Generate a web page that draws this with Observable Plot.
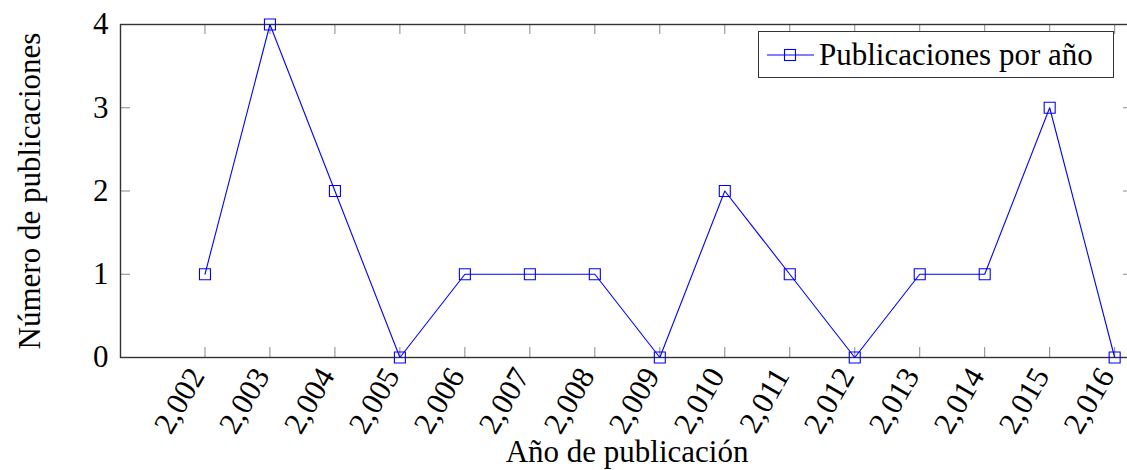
<!DOCTYPE html>
<html>
<head>
<meta charset="utf-8">
<script src="https://cdn.jsdelivr.net/npm/d3@7"></script>
<script src="https://cdn.jsdelivr.net/npm/@observablehq/plot@0.6"></script>
<style>
  html, body { margin: 0; padding: 0; background: white; overflow: hidden; width: 1127px; height: 470px; }
  #wrap { position: relative; width: 1127px; height: 470px; overflow: hidden; }
  #wrap > svg { max-width: none !important; display: block; }
  #legend {
    position: absolute; left: 758px; top: 31px; width: 354px; height: 45px;
    border: 1.4px solid #333; background: white; box-sizing: content-box;
    font-family: "Liberation Serif", "Times New Roman", serif; font-size: 31px;
    display: flex; align-items: center;
  }
  #legend svg { margin-left: 8px; margin-right: 5px; }
</style>
</head>
<body>
<div id="wrap"></div>
<script>
const years = [2002, 2003, 2004, 2005, 2006, 2007, 2008, 2009, 2010, 2011, 2012, 2013, 2014, 2015, 2016];
const counts = [1, 4, 2, 0, 1, 1, 1, 0, 2, 1, 0, 1, 1, 3, 0];
const yTicks = [0, 1, 2, 3, 4];
const seriesName = "Publicaciones por año";
const xLabel = "Año de publicación";
const yLabel = "Número de publicaciones";

const data = years.map((y, i) => ({year: y, count: counts[i]}));
const fmt = d3.format(",");
const W = 1140, H = 470, ML = 120, MR = 7, MT = 24, MB = 113;
const FW = W - ML - MR, FH = H - MT - MB;
const font = "Liberation Serif";

const chart = Plot.plot({
  width: W, height: H,
  marginLeft: ML, marginRight: MR, marginTop: MT, marginBottom: MB,
  x: {domain: [2000.7, 2016.29], axis: null},
  y: {domain: [0, 4], axis: null},
  style: {fontFamily: font, background: "white", overflow: "visible", maxWidth: "none"},
  marks: [
    Plot.tickX(years, {x: d => d, insetTop: FH - 10, stroke: "#888", strokeWidth: 1}),
    Plot.tickX(years, {x: d => d, insetBottom: FH - 10, stroke: "#888", strokeWidth: 1}),
    Plot.tickY(yTicks, {y: d => d, insetRight: FW - 10, stroke: "#888", strokeWidth: 1}),
    Plot.tickY(yTicks, {y: d => d, insetLeft: FW - 10, stroke: "#888", strokeWidth: 1}),
    Plot.frame({stroke: "#333", strokeWidth: 1.4}),
    Plot.line(data, {x: "year", y: "count", stroke: "#0000ff", strokeWidth: 1.1}),
    Plot.dot(data, {x: "year", y: "count", symbol: "square", r: 6.2, stroke: "#0000ff", fill: "none", strokeWidth: 1.1}),
    Plot.text(years, {x: d => d, frameAnchor: "bottom", text: d => fmt(d), rotate: -60, textAnchor: "end", lineAnchor: "middle", dx: -8, dy: 13, fontSize: 31, fill: "black"}),
    Plot.text(yTicks, {y: d => d, frameAnchor: "left", text: d => String(d), textAnchor: "end", dx: -12, fontSize: 31, fill: "black"}),
    Plot.text([xLabel], {frameAnchor: "bottom", text: d => d, dy: 95, lineAnchor: "middle", textAnchor: "middle", fontSize: 31, fill: "black"}),
    Plot.text([yLabel], {frameAnchor: "left", text: d => d, dx: -90, rotate: -90, lineAnchor: "middle", textAnchor: "middle", fontSize: 31, fill: "black"})
  ]
});
document.getElementById("wrap").appendChild(chart);

// legend
const leg = document.createElement("div");
leg.id = "legend";
leg.innerHTML = `<svg width="47" height="20" viewBox="0 0 47 20">
  <line x1="0" y1="10" x2="47" y2="10" stroke="#0000ff" stroke-width="1.1"/>
  <rect x="17.5" y="4.5" width="11" height="11" fill="none" stroke="#0000ff" stroke-width="1.1"/>
</svg><span>${seriesName}</span>`;
document.getElementById("wrap").appendChild(leg);
</script>
</body>
</html>
